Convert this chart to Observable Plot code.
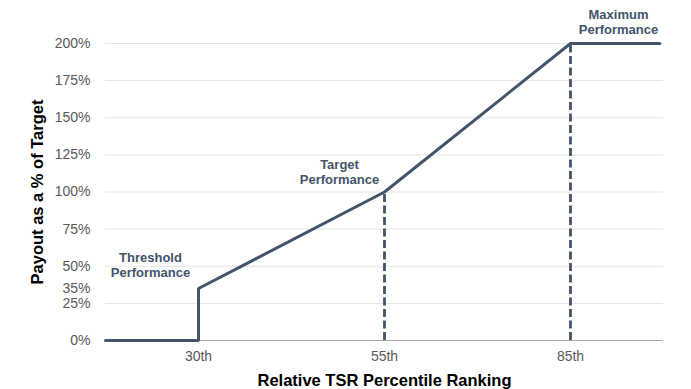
<!DOCTYPE html>
<html>
<head>
<meta charset="utf-8">
<script src="https://cdn.jsdelivr.net/npm/d3@7"></script>
<script src="https://cdn.jsdelivr.net/npm/@observablehq/plot@0.6"></script>
<style>
  html, body { margin: 0; padding: 0; background: #fff; }
  #chart svg { display: block; }
</style>
</head>
<body>
<div id="chart"></div>
<script>
// ---- data ----
const rankLabels = ["30th", "55th", "85th"];          // x tick labels (slots 1,2,3)
const rankSlots = [1, 2, 3];
const payoutTicks = [0, 25, 35, 50, 75, 100, 125, 150, 175, 200];
const gridTicks = [25, 50, 75, 100, 125, 150, 175, 200];
const curveRank = [0.5, 1, 1, 2, 3, 3.48];            // rank slot positions
const curvePayout = [0, 0, 35, 100, 200, 200];        // payout %
const milestoneLabels = ["Threshold\nPerformance", "Target\nPerformance", "Maximum\nPerformance"];
const milestoneRank = [1, 2, 3];
const milestonePayout = [35, 100, 200];
const yTitle = "Payout as a % of Target";
const xTitle = "Relative TSR Percentile Ranking";

// ---- build ----
const curve = curveRank.map((r, i) => ({rank: r, payout: curvePayout[i]}));
const milestones = milestoneLabels.map((l, i) => ({label: l, rank: milestoneRank[i], payout: milestonePayout[i]}));
const dashed = milestones.slice(1);

const ink = "#44546A";
const labelOffsets = [[-48, -23.5], [-45, -20.5], [48, -22]];

const chart = Plot.plot({
  width: 691,
  height: 389,
  marginLeft: 105,
  marginRight: 28,
  marginTop: 43,
  marginBottom: 49,
  style: {fontFamily: "'Liberation Sans', Arial, sans-serif", background: "#fff"},
  x: {domain: [0.5, 3.5]},
  y: {domain: [0, 200]},
  marks: [
    Plot.ruleY(gridTicks, {stroke: "#e4e4e4", strokeWidth: 1}),
    Plot.ruleY([0], {stroke: "#a6a6a6", strokeWidth: 1.2}),
    Plot.axisY(payoutTicks, {tickSize: 0, tickPadding: 15, tickFormat: d => d + "%", fontSize: 14, fill: "#595959", label: null}),
    Plot.axisX(rankSlots, {tickSize: 0, tickPadding: 11, tickFormat: (d, i) => rankLabels[i], fontSize: 14, fill: "#595959", label: null}),
    Plot.ruleX(dashed, {x: "rank", y1: 0, y2: "payout", stroke: ink, strokeWidth: 2.8, strokeDasharray: "8,3.5"}),
    Plot.line(curve, {x: "rank", y: "payout", stroke: ink, strokeWidth: 3, strokeLinejoin: "miter"}),
    ...milestones.map((m, i) => Plot.text([m], {
      x: "rank", y: "payout", text: "label",
      dx: labelOffsets[i][0], dy: labelOffsets[i][1],
      fill: ink, fontSize: 13, fontWeight: "bold", lineHeight: 1.15, lineAnchor: "middle"
    })),
    Plot.text([yTitle], {frameAnchor: "left", dx: -68, rotate: -90, textAnchor: "middle", lineAnchor: "middle", fontSize: 16.5, fontWeight: "bold", fill: "#000"}),
    Plot.text([xTitle], {frameAnchor: "bottom", dy: 40, textAnchor: "middle", lineAnchor: "middle", fontSize: 16.5, fontWeight: "bold", fill: "#000"})
  ]
});
document.getElementById("chart").appendChild(chart);
</script>
</body>
</html>
